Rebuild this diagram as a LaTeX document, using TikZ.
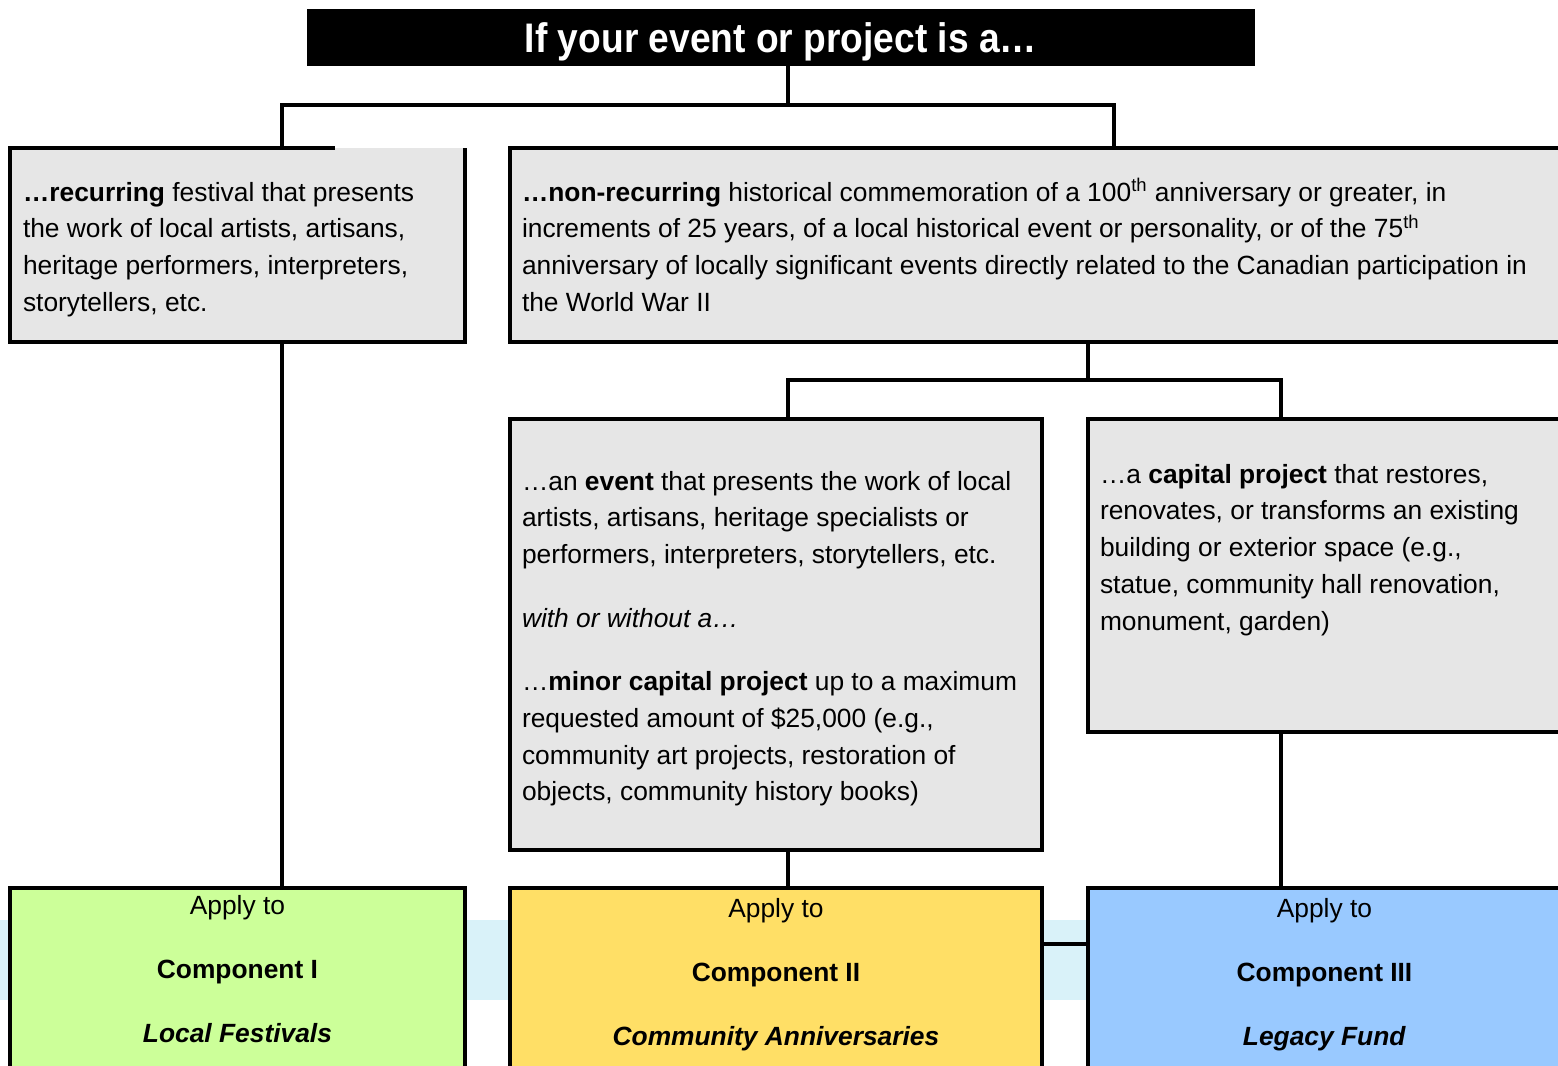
\documentclass[tikz,border=0pt]{standalone}
\usepackage{fontspec}
\setmainfont{Liberation Sans}
\newfontfamily\narrowfont[FakeStretch=0.9]{Liberation Sans}
\usetikzlibrary{positioning}
\definecolor{boxGray}{HTML}{E6E6E6}
\definecolor{oneColor}{HTML}{CCFF99}
\definecolor{twoColor}{HTML}{FFDF66}
\definecolor{threeColor}{HTML}{99C9FF}
\definecolor{skyColor}{HTML}{D9F2F9}
\tikzset{
	box/.style={draw, line width=1.9pt, fill=boxGray, inner sep=0, outer sep=0, anchor=north west},
	comp/.style={box, minimum height=5cm},
	txt/.style={inner sep=0, outer sep=0, anchor=base west, font=\fontsize{15}{21}\selectfont},
	link/.style={line width=1.9pt}
}

\begin{document}
\begin{tikzpicture}[x=0.02cm, y=-0.02cm]
	\useasboundingbox (0,0) rectangle (1558,1065);
	\clip (0,0) rectangle (1558,1065);
	\fill[skyColor] (0,920) rectangle (1558,1000);
	\node[fill=black, minimum width=18.96cm, minimum height=1.14cm, inner sep=0, outer sep=0, text=white, text depth=0pt, font=\narrowfont\bfseries\fontsize{23.5}{28}\selectfont] (q) at (781,37.5) {If your event or project is a…};
	\node[box, draw=none, minimum width=9.1cm, minimum height=3.88cm] (rec) at (10,148) {};
	\draw[link] (rec.north west) ++(325,0) -- (rec.north west) -- (rec.south west) -- (rec.south east) -- (rec.north east);
	\node[box, minimum width=21.02cm, minimum height=3.88cm] (nonrec) at (510,148) {};
	\node[box, minimum width=10.64cm, minimum height=8.62cm] (ev) at (510,419) {};
	\node[box, minimum width=9.46cm, minimum height=6.26cm] (cap) at (1088,419) {};
	\node[comp, fill=oneColor, minimum width=9.1cm] (c1) at (10,888) {};
	\node[comp, fill=twoColor, minimum width=10.64cm] (c2) at (510,888) {};
	\node[comp, fill=threeColor, minimum width=9.46cm] (c3) at (1088,888) {};
	\node[txt] (rec_t) at (23,201) {\begin{tabular}[t]{@{}l@{}}
			\textbf{…recurring} festival that presents\\
			the work of local artists, artisans,\\
			heritage performers, interpreters,\\
			storytellers, etc.
		\end{tabular}};
	\node[txt] (nonrec_t) at (522,201) {\begin{tabular}[t]{@{}l@{}}
			\textbf{…non-recurring} historical commemoration of a 100\textsuperscript{th} anniversary or greater, in\\
			increments of 25 years, of a local historical event or personality, or of the 75\textsuperscript{th}\\
			anniversary of locally significant events directly related to the Canadian participation in\\
			the World War II
		\end{tabular}};
	\node[txt] (ev_t) at (522,490) {\begin{tabular}[t]{@{}l@{}}
			…an \textbf{event} that presents the work of local\\
			artists, artisans, heritage specialists or\\
			performers, interpreters, storytellers, etc.\\[15pt]
			\textit{with or without a…}\\[15pt]
			…\textbf{minor capital project} up to a maximum\\
			requested amount of \$25,000 (e.g.,\\
			community art projects, restoration of\\
			objects, community history books)
		\end{tabular}};
	\node[txt] (cap_t) at (1100,483) {\begin{tabular}[t]{@{}l@{}}
			…a \textbf{capital project} that restores,\\
			renovates, or transforms an existing\\
			building or exterior space (e.g.,\\
			statue, community hall renovation,\\
			monument, garden)
		\end{tabular}};
	\node[txt, anchor=base] (c1_t) at (c1.north |- 0,914) {\begin{tabular}[t]{@{}c@{}}
			Apply to\\[15.5pt] \textbf{Component I}\\[15.5pt] \textbf{\textit{Local Festivals}}
		\end{tabular}};
	\node[txt, anchor=base] (c2_t) at (c2.north |- 0,917) {\begin{tabular}[t]{@{}c@{}}
			Apply to\\[15.5pt] \textbf{Component II}\\[15.5pt] \textbf{\textit{Community Anniversaries}}
		\end{tabular}};
	\node[txt, anchor=base] (c3_t) at (c3.north |- 0,917) {\begin{tabular}[t]{@{}c@{}}
			Apply to\\[15.5pt] \textbf{Component III}\\[15.5pt] \textbf{\textit{Legacy Fund}}
		\end{tabular}};
	\coordinate (j0) at (788,105);
	\coordinate (j1) at (1088,380);
	\draw[link] (q.south -| j0) -- (j0);
	\draw[link] (rec.north -| 282,0) |- (j0) -| (nonrec.north -| 1114,0);
	\draw[link] (nonrec.south -| j1) -- (j1);
	\draw[link] (ev.north -| 788,0) |- (j1) -| (cap.north -| 1281,0);
	\draw[link] (rec.south -| 282,0) -- (c1.north -| 282,0);
	\draw[link] (ev.south -| 788,0) -- (c2.north -| 788,0);
	\draw[link] (cap.south -| 1281,0) -- (c3.north -| 1281,0);
	\draw[link] (c2.east |- 0,944) -- (c3.west |- 0,944);
\end{tikzpicture}
\end{document}
